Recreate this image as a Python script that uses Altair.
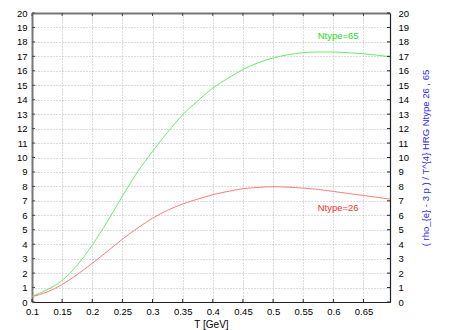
import altair as alt
import pandas as pd

# ---- data ----
T = [0.1, 0.125, 0.15, 0.175, 0.2, 0.225, 0.25, 0.275, 0.3, 0.325, 0.35, 0.375,
     0.4, 0.425, 0.45, 0.475, 0.5, 0.525, 0.55, 0.575, 0.6, 0.625, 0.65, 0.675, 0.694]
ntype65 = [0.39, 0.85, 1.49, 2.55, 3.94, 5.57, 7.33, 9.0, 10.42, 11.75, 12.95, 13.92,
           14.8, 15.48, 16.09, 16.55, 16.89, 17.11, 17.25, 17.3, 17.3, 17.25, 17.18, 17.07, 16.97]
ntype26 = [0.37, 0.69, 1.21, 1.9, 2.68, 3.5, 4.35, 5.11, 5.8, 6.35, 6.78, 7.12,
           7.42, 7.65, 7.84, 7.93, 7.98, 7.95, 7.88, 7.79, 7.65, 7.51, 7.37, 7.23, 7.12]
series_names = ["Ntype=26", "Ntype=65"]
series_colors = ["#ff7b7b", "#66ee66"]

label_names = ["Ntype=65", "Ntype=26"]
label_T = [0.608, 0.608]
label_v = [18.42, 6.5]
label_colors = ["#22dd22", "#ff2e2e"]

x_ticks = [0.1, 0.15, 0.2, 0.25, 0.3, 0.35, 0.4, 0.45, 0.5, 0.55, 0.6, 0.65]
y_ticks = list(range(0, 21))
x_title = "T [GeV]"
y_title = "( rho_{e} - 3 p ) / T^{4}  HRG Ntype 26 , 65"

# ---- tables ----
rows = []
for name, vals in zip(["Ntype=65", "Ntype=26"], [ntype65, ntype26]):
    for t, v in zip(T, vals):
        rows.append({"T": t, "v": v, "series": name})
df = pd.DataFrame(rows)
lab_df = pd.DataFrame({"T": label_T, "v": label_v, "name": label_names, "c": label_colors})
xt_df = pd.DataFrame({"T": x_ticks})
yt_df = pd.DataFrame({"v": y_ticks})

W, H = 358, 289
FONT = "Liberation Sans"
xscale = alt.Scale(domain=[0.1, 0.694], nice=False, zero=False)
yscale = alt.Scale(domain=[0, 20], nice=False)

grid_kw = dict(grid=True, gridColor="#b8b8b8", gridDash=[1, 2], gridWidth=1)

lines = alt.Chart(df).mark_line(strokeWidth=1, interpolate="monotone").encode(
    x=alt.X("T:Q", scale=xscale, axis=alt.Axis(
        orient="bottom", values=x_ticks, format="~g", title=x_title,
        labelFont=FONT, labelFontSize=9.5, labelColor="#000", labelPadding=4,
        labelFlush=False, labelOverlap=False,
        tickSize=0, domainColor="#222", domainWidth=1.2,
        titleFont=FONT, titleFontSize=10, titleFontWeight="normal", titleColor="#000",
        titleBaseline="middle", titleY=22, **grid_kw)),
    y=alt.Y("v:Q", scale=yscale, axis=alt.Axis(
        orient="left", values=y_ticks, format="d", title=None,
        labelFont=FONT, labelFontSize=9.5, labelColor="#000", labelPadding=5,
        labelFlush=False, labelOverlap=False,
        tickSize=0, domainColor="#777", domainWidth=2, **grid_kw)),
    color=alt.Color("series:N", scale=alt.Scale(domain=series_names, range=series_colors), legend=None),
    detail="series:N",
)

axes_tr = alt.Chart(df).mark_line(opacity=0).encode(
    x=alt.X("T:Q", scale=xscale, axis=alt.Axis(
        orient="top", values=x_ticks, labels=False, ticks=False, grid=False, title=None,
        domainColor="#777", domainWidth=2)),
    y=alt.Y("v:Q", scale=yscale, axis=alt.Axis(
        orient="right", values=y_ticks, format="d", title=y_title,
        labelFont=FONT, labelFontSize=9.5, labelColor="#000", labelPadding=8,
        labelFlush=False, labelOverlap=False,
        tickSize=0, grid=False, domainColor="#222", domainWidth=1.2,
        titleFont=FONT, titleFontSize=9.5, titleFontWeight="normal", titleColor="#2a2af0",
        titleAngle=270, titleAlign="center", titleBaseline="middle",
        titleX=35, titleY=H / 2)),
    detail="series:N",
)

tick_bottom = alt.Chart(xt_df).mark_rule(color="#222", strokeWidth=1).encode(
    x=alt.X("T:Q", scale=xscale, axis=None), y=alt.value(H), y2=alt.value(H - 3))
tick_top = alt.Chart(xt_df).mark_rule(color="#444", strokeWidth=1).encode(
    x=alt.X("T:Q", scale=xscale, axis=None), y=alt.value(0), y2=alt.value(3))
tick_left = alt.Chart(yt_df).mark_rule(color="#444", strokeWidth=1).encode(
    y=alt.Y("v:Q", scale=yscale, axis=None), x=alt.value(0), x2=alt.value(3))
tick_right = alt.Chart(yt_df).mark_rule(color="#222", strokeWidth=1).encode(
    y=alt.Y("v:Q", scale=yscale, axis=None), x=alt.value(W), x2=alt.value(W - 3))

labels = alt.Chart(lab_df).mark_text(font=FONT, fontSize=9.5, align="center", baseline="middle").encode(
    x=alt.X("T:Q", scale=xscale, axis=None),
    y=alt.Y("v:Q", scale=yscale, axis=None),
    text="name:N",
    color=alt.Color("c:N", scale=None, legend=None),
)

chart = alt.layer(
    lines, axes_tr, tick_bottom, tick_top, tick_left, tick_right, labels
).resolve_axis(x="independent", y="independent").properties(
    width=W, height=H,
    autosize=alt.AutoSizeParams(type="none"),
    padding={"left": 24, "top": 5, "right": 73, "bottom": 28},
).configure_view(stroke=None)

chart.save("out.html", embed_options={"renderer": "svg", "actions": False})
